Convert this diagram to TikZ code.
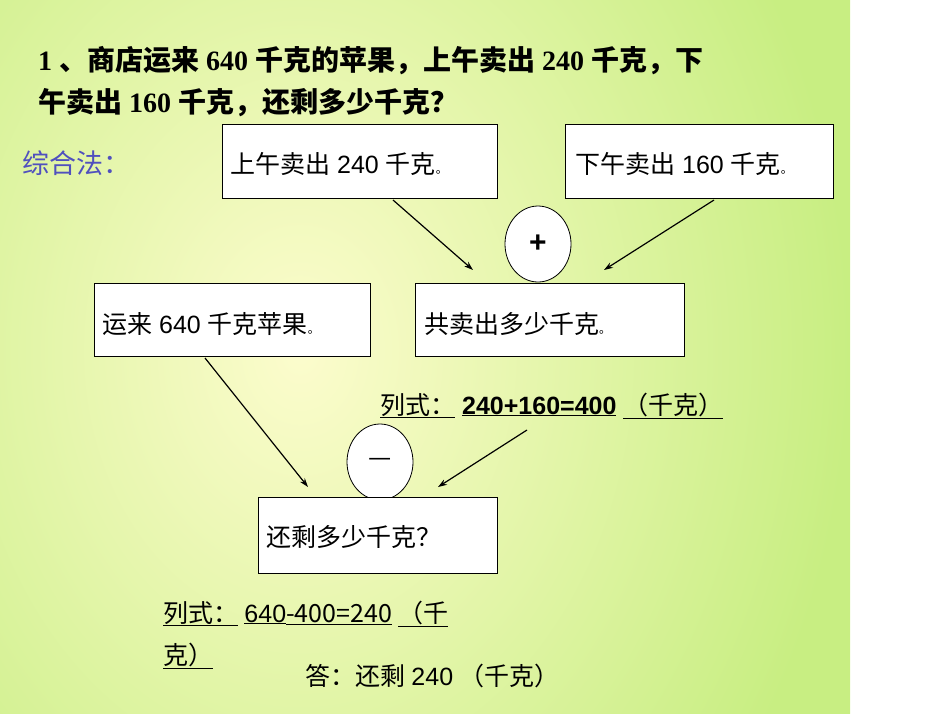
\documentclass[tikz,border=0pt]{standalone}
\usepackage{fontspec}
\setmainfont{Liberation Serif}
\setsansfont{Liberation Sans}
\newfontfamily\cjk{Noto Sans CJK SC}
\usetikzlibrary{shapes.geometric,arrows.meta}
\begin{document}
\begin{tikzpicture}[x=1pt,y=-1pt,
  bx/.style={draw,fill=white,line width=0.8pt,anchor=north west,inner sep=0pt},
  ov/.style={draw,fill=white,ellipse,line width=0.8pt,minimum width=66pt,minimum height=76pt,inner sep=0pt},
  arr/.style={-{Stealth[length=9pt,width=6pt]},line width=1.2pt},
  tx/.style={anchor=base west,inner sep=0pt,font=\fontsize{25}{28}\selectfont},
  sfx/.style={tx,font=\fontsize{25}{28}\selectfont\sffamily}]
\useasboundingbox (0,0) rectangle (950,713);
\begin{scope}
\clip (0,0) rectangle (950,713);
\shade[inner color={rgb,255:red,252;green,252;blue,205},outer color={rgb,255:red,200;green,238;blue,130}] (-250,-350) rectangle (850,1050);
\end{scope}
\node[tx,font=\fontsize{28}{30}\selectfont\bfseries] (t1) at (38,70) {1 {\cjk 、商店运来} 640 {\cjk 千克的苹果，上午卖出} 240 {\cjk 千克，下}};
\node[tx,font=\fontsize{28}{30}\selectfont\bfseries] (t2) at (38,112) {{\cjk 午卖出} 160 {\cjk 千克，还剩多少千克？}};
\node[tx,font=\fontsize{27}{30}\selectfont\cjk,text={rgb,255:red,80;green,80;blue,190}] (z) at (22,173) {综合法：};
\node[bx,minimum width=275pt,minimum height=74pt] (b1) at (222,124) {};
\node[sfx] (l1) at (230,173) {{\cjk 上午卖出} 240 {\cjk 千克}{\cjk\fontsize{12}{12}\selectfont 。}};
\node[bx,minimum width=268pt,minimum height=74pt] (b2) at (565,124) {};
\node[sfx] (l2) at (575,173) {{\cjk 下午卖出} 160 {\cjk 千克}{\cjk\fontsize{12}{12}\selectfont 。}};
\node[ov] (p) at (538,244) {\fontsize{30}{30}\selectfont\bfseries\sffamily +};
\node[bx,minimum width=276pt,minimum height=73pt] (b3) at (94,283) {};
\node[sfx] (l3) at (102,333) {{\cjk 运来} 640 {\cjk 千克苹果}{\cjk\fontsize{12}{12}\selectfont 。}};
\node[bx,minimum width=269pt,minimum height=73pt] (b4) at (415,283) {};
\node[sfx] (l4) at (424,333) {{\cjk 共卖出多少千克}{\cjk\fontsize{12}{12}\selectfont 。}};
\coordinate (a1) at (393,200); \coordinate (a1e) at (473,270);
\coordinate (a2) at (714,200); \coordinate (a2e) at (604,270);
\draw[arr] (a1) -- (a1e);
\draw[arr] (a2) -- (a2e);
\node[sfx] (f1) at (380,414) {\underline{\cjk 列式：}\ \textbf{\underline{240+160=400}}\ \underline{\cjk （千克）}};
\node[ov] (m) at (380,462) {\fontsize{26}{26}\selectfont\cjk —};
\coordinate (a3) at (205,358); \coordinate (a3e) at (308,487);
\coordinate (a4) at (527,430); \coordinate (a4e) at (438,487);
\draw[arr] (a3) -- (a3e);
\draw[arr] (a4) -- (a4e);
\node[bx,minimum width=239pt,minimum height=76pt] (b5) at (258,497) {};
\node[sfx] (l5) at (266,546) {{\cjk 还剩多少千克？}};
\node[tx] (f2) at (163,622) {\underline{\cjk 列式：}\ \underline{\sffamily 640}\underline{\cjk -400=240}\ \underline{\cjk （千}};
\node[tx] (f3) at (163,664) {\underline{\cjk 克）}};
\node[tx] (ans) at (305,685) {{\cjk 答：还剩} {\sffamily 240} {\cjk （千克）}};
\end{tikzpicture}
\end{document}
